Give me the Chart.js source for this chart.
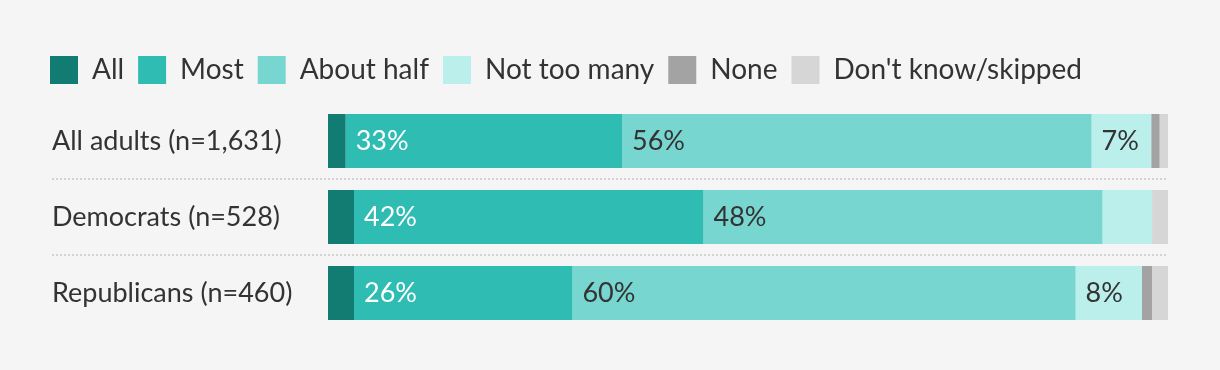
<!DOCTYPE html>
<html>
<head>
<meta charset="utf-8">
<script src="https://cdn.jsdelivr.net/npm/chart.js@4/dist/chart.umd.min.js"></script>
<style>
  html, body { margin: 0; padding: 0; background: #f5f5f5; }
  #wrap { width: 1220px; height: 370px; }
</style>
</head>
<body>
<div id="wrap"><canvas id="chart"></canvas></div>
<script>
// 데이터
const categories = ['All adults (n=1,631)', 'Democrats (n=528)', 'Republicans (n=460)'];
const seriesNames = ['All', 'Most', 'About half', 'Not too many', 'None', "Don't know/skipped"];
const allValues = [2.1, 3.1, 3.1];
const mostValues = [32.9, 41.6, 26];
const aboutHalfValues = [55.9, 47.5, 59.9];
const notTooManyValues = [7.1, 5.9, 7.9];
const noneValues = [1, 0, 1.2];
const dontKnowValues = [1, 1.9, 1.9];

const colors = ['#127c73', '#2ebcb3', '#78d6d1', '#bbefeb', '#a3a3a3', '#d6d6d6'];
const labelColors = [null, '#ffffff', '#333333', '#333333', null, null];
const FONT = 'Lato, "Noto Sans", sans-serif';

// 카테고리 사이 점선
const separatorPlugin = {
    id: 'separators',
    afterLayout(chart) {
        chart.scales.y.left = 52;
    },
    beforeDatasetsDraw(chart) {
        const ctx = chart.ctx;
        const yScale = chart.scales.y;
        ctx.save();
        ctx.strokeStyle = '#d2d2d2';
        ctx.lineWidth = 2;
        ctx.setLineDash([2, 2]);
        for (let i = 0; i < categories.length - 1; i++) {
            const y = Math.round((yScale.getPixelForValue(i) + yScale.getPixelForValue(i + 1)) / 2);
            ctx.beginPath();
            ctx.moveTo(52, y);
            ctx.lineTo(chart.chartArea.right, y);
            ctx.stroke();
        }
        ctx.restore();
    }
};

// 막대 안 퍼센트 라벨
const barLabelPlugin = {
    id: 'barLabels',
    afterDatasetsDraw(chart) {
        const ctx = chart.ctx;
        ctx.save();
        ctx.font = '27px ' + FONT;
        ctx.textAlign = 'left';
        ctx.textBaseline = 'middle';
        chart.data.datasets.forEach((ds, di) => {
            if (!labelColors[di]) return;
            const meta = chart.getDatasetMeta(di);
            meta.data.forEach((bar, i) => {
                const v = ds.data[i];
                if (v < 6.5) return;
                const p = bar.getProps(['x', 'y', 'base'], true);
                ctx.fillStyle = labelColors[di];
                ctx.fillText(Math.round(v) + '%', Math.min(p.base, p.x) + 10, p.y);
            });
        });
        ctx.restore();
    }
};

const seriesData = [allValues, mostValues, aboutHalfValues, notTooManyValues, noneValues, dontKnowValues];

new Chart(document.getElementById('chart'), {
    type: 'bar',
    data: {
        labels: categories,
        datasets: seriesNames.map((name, i) => ({
            label: name,
            data: seriesData[i],
            backgroundColor: colors[i],
            borderWidth: 0,
            barPercentage: 0.71,
            categoryPercentage: 1
        }))
    },
    options: {
        indexAxis: 'y',
        responsive: true,
        maintainAspectRatio: false,
        animation: false,
        layout: { padding: { left: 36, right: 52, top: 42, bottom: 39 } },
        plugins: {
            legend: {
                align: 'start',
                labels: {
                    boxWidth: 28,
                    boxHeight: 28,
                    padding: 14,
                    color: '#333333',
                    font: { family: FONT, size: 28 }
                }
            },
            tooltip: { enabled: false }
        },
        scales: {
            x: {
                stacked: true,
                position: 'top',
                min: 0,
                max: 100,
                ticks: { display: false },
                grid: { display: false },
                border: { display: false },
                afterFit(scale) { scale.height = 9; }
            },
            y: {
                stacked: true,
                grid: { display: false },
                border: { display: false },
                ticks: {
                    crossAlign: 'far',
                    color: '#333333',
                    font: { family: FONT, size: 27 }
                },
                afterFit(scale) { scale.width = 292; }
            }
        }
    },
    plugins: [separatorPlugin, barLabelPlugin]
});
</script>
</body>
</html>
